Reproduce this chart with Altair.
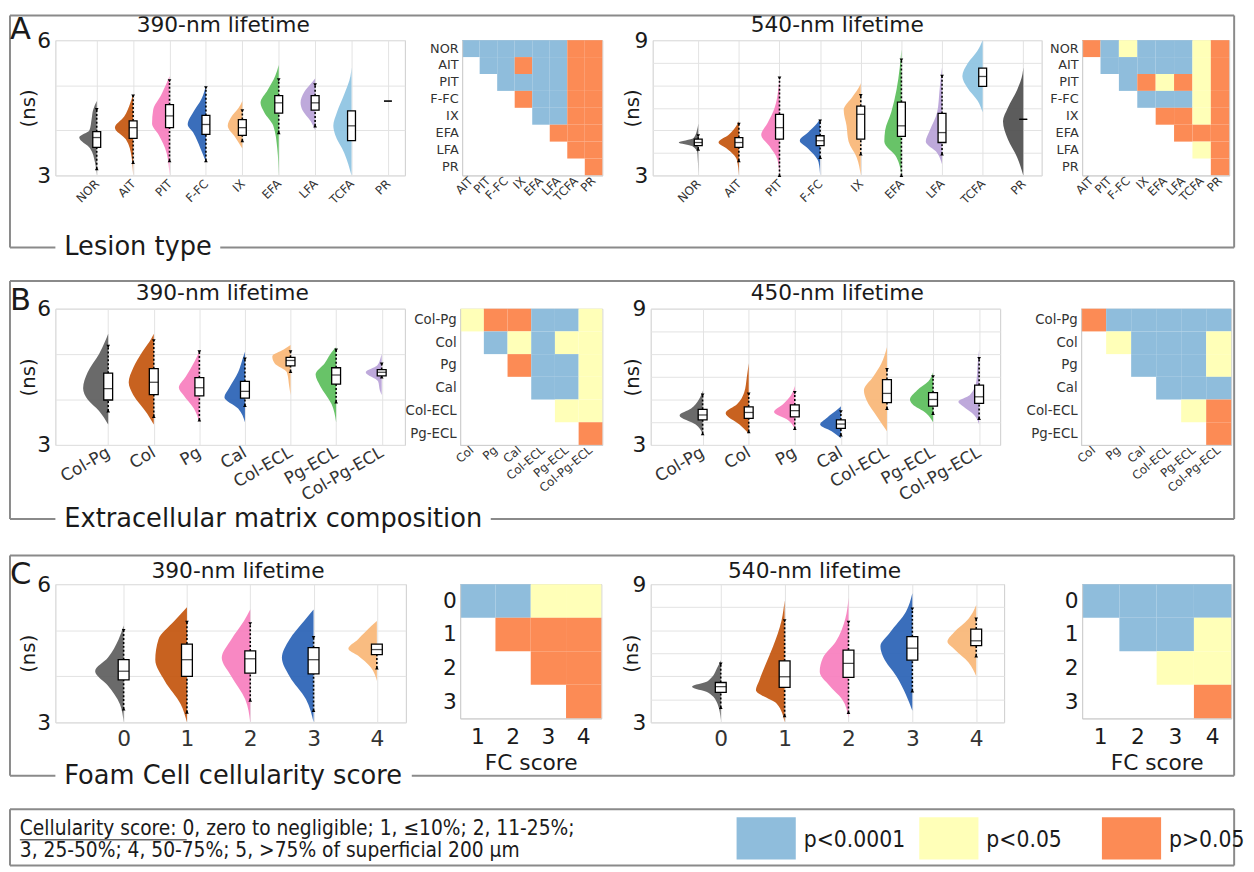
import altair as alt
import pandas as pd

FONT = "DejaVu Sans"
NARROW = "DejaVu Sans Condensed, Liberation Sans Narrow, DejaVu Sans"
FRAME = "#8a8a8a"
INK = "#1a1a1a"

GRAY, BROWN, PINK, BLUE = "#5f5f5f", "#c4560f", "#f77fbe", "#2b63b6"
LORANGE, GREEN, LAV, LBLUE, DGRAY = "#f9b777", "#5dbe5d", "#b9a3d8", "#8ec4e2", "#505050"

SIG_LEVELS = ["p<0.0001", "p<0.05", "p>0.05"]
SIG_COLORS = ["#8fbddc", "#ffffb8", "#fc8b55"]
SIG_CODE = {"B": "p<0.0001", "Y": "p<0.05", "O": "p>0.05"}

# ---------------- A: lesion type ----------------
A_cats = ["NOR", "AIT", "PIT", "F-FC", "IX", "EFA", "LFA", "TCFA", "PR"]
A_colors = [GRAY, BROWN, PINK, BLUE, LORANGE, GREEN, LAV, LBLUE, DGRAY]

A390_q1 = [3.62, 3.82, 4.06, 3.91, 3.89, 4.38, 4.45, 3.77, 4.65]
A390_med = [3.84, 4.06, 4.32, 4.13, 4.06, 4.61, 4.61, 4.10, 4.65]
A390_q3 = [3.97, 4.21, 4.57, 4.33, 4.24, 4.77, 4.77, 4.43, 4.65]
A390_lo = [3.15, 3.29, 3.33, 3.33, 3.77, 3.95, 4.10, 3.77, 4.65]
A390_hi = [4.46, 4.76, 5.10, 4.94, 4.43, 5.12, 5.01, 4.43, 4.65]
A390_shape = [
    [(3.0, 0), (3.3, 0.05), (3.6, 0.18), (3.84, 0.48), (4.0, 0.2), (4.25, 0.14), (4.45, 0.1), (4.65, 0)],
    [(3.0, 0), (3.4, 0.04), (3.8, 0.2), (4.06, 0.5), (4.3, 0.25), (4.6, 0.08), (4.8, 0)],
    [(3.0, 0), (3.5, 0.08), (3.9, 0.3), (4.15, 0.48), (4.45, 0.45), (4.8, 0.22), (5.2, 0)],
    [(3.3, 0), (3.6, 0.15), (3.95, 0.35), (4.13, 0.5), (4.4, 0.35), (4.7, 0.12), (5.0, 0)],
    [(3.6, 0), (3.85, 0.2), (4.1, 0.4), (4.3, 0.3), (4.5, 0.1), (4.65, 0)],
    [(3.0, 0), (3.6, 0.04), (4.1, 0.15), (4.4, 0.4), (4.61, 0.5), (4.9, 0.3), (5.2, 0.1), (5.45, 0)],
    [(4.0, 0), (4.2, 0.12), (4.45, 0.35), (4.61, 0.4), (4.85, 0.3), (5.05, 0.1), (5.15, 0)],
    [(3.0, 0), (3.5, 0.2), (3.9, 0.45), (4.1, 0.5), (4.4, 0.4), (4.8, 0.2), (5.2, 0.03), (5.4, 0)],
    [],
]

A540_q1 = [4.32, 4.24, 4.61, 4.32, 4.61, 4.73, 4.46, 6.95, 5.49]
A540_med = [4.46, 4.46, 5.12, 4.54, 5.71, 5.20, 4.90, 7.39, 5.49]
A540_q3 = [4.61, 4.68, 5.71, 4.76, 6.07, 6.25, 5.75, 7.76, 5.49]
A540_lo = [4.17, 3.66, 3.00, 3.80, 3.95, 3.00, 3.95, 6.95, 5.49]
A540_hi = [4.76, 5.27, 7.32, 5.41, 6.54, 8.12, 7.39, 7.76, 5.49]
A540_shape = [
    [(3.1, 0), (4.0, 0.02), (4.3, 0.15), (4.46, 0.48), (4.65, 0.12), (5.0, 0.03), (5.3, 0)],
    [(3.0, 0), (3.7, 0.05), (4.2, 0.3), (4.46, 0.5), (4.8, 0.25), (5.2, 0.06), (5.4, 0)],
    [(3.0, 0), (3.7, 0.05), (4.3, 0.25), (4.8, 0.45), (5.3, 0.3), (6.0, 0.12), (6.8, 0.03), (7.4, 0)],
    [(3.0, 0), (3.6, 0.04), (4.2, 0.3), (4.54, 0.5), (4.9, 0.3), (5.3, 0.08), (5.5, 0)],
    [(3.0, 0), (3.8, 0.1), (4.5, 0.3), (5.2, 0.35), (5.9, 0.42), (6.5, 0.2), (7.0, 0.02), (7.1, 0)],
    [(3.0, 0), (3.8, 0.12), (4.5, 0.42), (5.0, 0.4), (5.8, 0.25), (6.8, 0.12), (7.8, 0.04), (8.6, 0)],
    [(3.5, 0), (4.0, 0.12), (4.5, 0.4), (5.0, 0.3), (5.8, 0.12), (6.8, 0.06), (7.5, 0.02), (7.8, 0)],
    [(5.8, 0), (6.3, 0.12), (6.9, 0.38), (7.4, 0.5), (8.0, 0.36), (8.5, 0.14), (9.0, 0)],
    [(3.0, 0), (3.8, 0.15), (4.6, 0.38), (5.4, 0.5), (6.0, 0.38), (6.8, 0.15), (7.5, 0.02), (7.8, 0)],
]

A_rows = ["NOR", "AIT", "PIT", "F-FC", "IX", "EFA", "LFA", "PR"]
A_cols = ["AIT", "PIT", "F-FC", "IX", "EFA", "LFA", "TCFA", "PR"]
A390_sig = ["BBBBBBOO", ".BBOBBOO", "..BBBBOO", "...OBBOO",
            "....BBOO", ".....OOO", "......OO", ".......O"]
A540_sig = ["OBYBBBYO", ".BBBBBYO", "..BOYOYO", "...BBBYO",
            "....OOYO", ".....OOO", "......YO", ".......O"]

# ---------------- B: extracellular matrix ----------------
B_cats = ["Col-Pg", "Col", "Pg", "Cal", "Col-ECL", "Pg-ECL", "Col-Pg-ECL"]
B_colors = [GRAY, BROWN, PINK, BLUE, LORANGE, GREEN, LAV]

B390_q1 = [3.99, 4.11, 4.08, 4.03, 4.74, 4.34, 4.52]
B390_med = [4.24, 4.38, 4.26, 4.18, 4.86, 4.54, 4.60]
B390_q3 = [4.58, 4.68, 4.48, 4.40, 4.93, 4.70, 4.66]
B390_lo = [3.75, 3.63, 3.55, 3.87, 4.62, 3.95, 4.50]
B390_hi = [5.17, 5.29, 5.05, 4.89, 5.05, 5.09, 4.78]
B390_shape = [
    [(3.45, 0), (3.75, 0.2), (4.0, 0.45), (4.25, 0.55), (4.6, 0.45), (5.0, 0.2), (5.3, 0.06), (5.45, 0)],
    [(3.45, 0), (3.7, 0.15), (4.1, 0.45), (4.38, 0.55), (4.7, 0.45), (5.05, 0.25), (5.35, 0.05), (5.45, 0)],
    [(3.5, 0), (3.8, 0.12), (4.1, 0.35), (4.26, 0.45), (4.5, 0.3), (4.85, 0.1), (5.05, 0)],
    [(3.5, 0), (3.8, 0.15), (4.05, 0.45), (4.25, 0.35), (4.6, 0.15), (4.9, 0.05), (5.05, 0)],
    [(4.1, 0), (4.3, 0.03), (4.6, 0.08), (4.8, 0.35), (4.95, 0.4), (5.1, 0.15), (5.2, 0)],
    [(3.5, 0), (3.9, 0.1), (4.3, 0.35), (4.55, 0.45), (4.8, 0.25), (5.1, 0.05), (5.15, 0)],
    [(4.1, 0), (4.2, 0.04), (4.4, 0.08), (4.6, 0.35), (4.75, 0.1), (4.9, 0.03), (5.0, 0)],
]

B450_q1 = [4.10, 4.17, 4.24, 3.73, 4.86, 4.71, 4.83]
B450_med = [4.32, 4.43, 4.51, 3.92, 5.27, 5.00, 5.12]
B450_q3 = [4.57, 4.68, 4.76, 4.10, 5.88, 5.30, 5.63]
B450_lo = [3.50, 3.59, 3.73, 3.44, 4.61, 4.39, 4.17]
B450_hi = [5.20, 5.24, 5.30, 4.46, 6.32, 6.00, 6.80]
B450_shape = [
    [(3.5, 0), (3.9, 0.15), (4.3, 0.5), (4.6, 0.25), (5.0, 0.08), (5.4, 0)],
    [(3.5, 0), (3.9, 0.2), (4.4, 0.5), (4.8, 0.25), (5.3, 0.1), (6.0, 0.04), (6.6, 0)],
    [(3.7, 0), (4.1, 0.15), (4.45, 0.45), (4.8, 0.25), (5.2, 0.08), (5.6, 0)],
    [(3.3, 0), (3.6, 0.2), (3.9, 0.45), (4.2, 0.3), (4.6, 0.05), (4.7, 0)],
    [(3.6, 0), (4.2, 0.2), (5.0, 0.45), (5.4, 0.5), (6.0, 0.3), (6.6, 0.12), (7.3, 0)],
    [(4.0, 0), (4.4, 0.15), (4.8, 0.45), (5.0, 0.5), (5.4, 0.35), (5.8, 0.1), (6.2, 0)],
    [(3.9, 0), (4.3, 0.1), (4.7, 0.35), (4.9, 0.45), (5.2, 0.2), (5.8, 0.06), (6.6, 0.03), (7.2, 0)],
]

B_rows = ["Col-Pg", "Col", "Pg", "Cal", "Col-ECL", "Pg-ECL"]
B_cols = ["Col", "Pg", "Cal", "Col-ECL", "Pg-ECL", "Col-Pg-ECL"]
B390_sig = ["YOOBBY", ".BYBYY", "..OBBY", "...BBY", "....YY", ".....O"]
B450_sig = ["OBBBBB", ".YBBBY", "..BBBY", "...BBB", "....YO", ".....O"]

# ---------------- C: foam cell score ----------------
C_cats = ["0", "1", "2", "3", "4"]
C_colors = [GRAY, BROWN, PINK, BLUE, LORANGE]

C390_q1 = [3.92, 4.00, 4.07, 4.05, 4.47]
C390_med = [4.11, 4.36, 4.38, 4.36, 4.58]
C390_q3 = [4.36, 4.70, 4.55, 4.62, 4.70]
C390_lo = [3.29, 3.22, 3.48, 3.26, 4.18]
C390_hi = [4.99, 5.17, 5.14, 4.84, 4.70]
C390_shape = [
    [(3.0, 0), (3.4, 0.06), (3.8, 0.25), (4.11, 0.45), (4.4, 0.25), (4.8, 0.08), (5.1, 0)],
    [(3.0, 0), (3.4, 0.1), (3.9, 0.35), (4.36, 0.5), (4.8, 0.45), (5.2, 0.2), (5.5, 0)],
    [(3.0, 0), (3.5, 0.08), (4.0, 0.3), (4.4, 0.45), (4.8, 0.3), (5.2, 0.1), (5.45, 0)],
    [(3.0, 0), (3.5, 0.12), (4.0, 0.38), (4.4, 0.5), (4.8, 0.38), (5.2, 0.15), (5.45, 0)],
    [(3.9, 0), (4.2, 0.1), (4.45, 0.3), (4.6, 0.45), (4.8, 0.3), (5.1, 0.08), (5.2, 0)],
]

C540_q1 = [4.30, 4.52, 4.95, 5.70, 6.33]
C540_med = [4.55, 4.98, 5.56, 6.22, 6.54]
C540_q3 = [4.73, 5.67, 6.14, 6.72, 7.05]
C540_lo = [3.65, 3.29, 3.43, 4.37, 5.89]
C540_hi = [5.53, 7.41, 7.34, 7.92, 7.48]
C540_shape = [
    [(3.1, 0), (3.8, 0.05), (4.3, 0.2), (4.55, 0.45), (4.8, 0.2), (5.4, 0.05), (5.7, 0)],
    [(3.0, 0), (3.8, 0.12), (4.4, 0.45), (4.8, 0.4), (5.5, 0.3), (6.3, 0.18), (7.4, 0.05), (8.3, 0)],
    [(3.2, 0), (4.0, 0.1), (4.6, 0.3), (5.2, 0.45), (5.8, 0.4), (6.5, 0.2), (7.5, 0.05), (8.4, 0)],
    [(3.5, 0), (4.2, 0.1), (5.0, 0.25), (5.8, 0.45), (6.3, 0.5), (6.9, 0.35), (7.8, 0.1), (8.6, 0)],
    [(5.0, 0), (5.6, 0.12), (6.2, 0.35), (6.5, 0.45), (6.9, 0.35), (7.5, 0.12), (8.1, 0)],
]

C_rows = ["0", "1", "2", "3"]
C_cols = ["1", "2", "3", "4"]
C390_sig = ["BBYY", ".OOO", "..OO", "...O"]
C540_sig = ["BBBB", ".BBY", "..YY", "...O"]

LEGEND_LINE1 = "Cellularity score: 0, zero to negligible; 1, \u226410%; 2, 11-25%;"
LEGEND_LINE2 = "3, 25-50%; 4, 50-75%; 5, >75%  of superficial 200 \u03bcm"

ONE = pd.DataFrame({"k": [0]})
NOSTROKE = alt.ViewBackground(stroke="transparent")


# ---------------- helpers ----------------
def hrule(x1, x2, y, color=FRAME, w=2, op=1):
    return alt.Chart(ONE).mark_rule(color=color, strokeWidth=w, strokeOpacity=op).encode(
        x=alt.value(x1), x2=alt.value(x2), y=alt.value(y))


def vrule(x, y1, y2, color=FRAME, w=2):
    return alt.Chart(ONE).mark_rule(color=color, strokeWidth=w).encode(
        x=alt.value(x), y=alt.value(y1), y2=alt.value(y2))


def label(text, x, y, size, align="left", font=FONT, baseline="middle"):
    return alt.Chart(ONE).mark_text(text=text, fontSize=size, font=font, align=align,
                                    baseline=baseline, color=INK).encode(
        x=alt.value(x), y=alt.value(y))


def spacer(w, h):
    return alt.Chart(ONE).mark_point(opacity=0).encode(
        x=alt.value(0), y=alt.value(0)).properties(width=w, height=h, view=NOSTROKE)


def section(top, bottom, right, cap_w, caption, letter, letter_y, bound_y):
    left, cap_x = -46, 9
    return [hrule(left, right, top), vrule(left, top, bottom), vrule(right, top, bottom),
            hrule(left, cap_x - 9, bottom), hrule(cap_x + cap_w + 8, right, bottom),
            label(caption, cap_x, bottom, 26),
            label(letter, -46, letter_y, 31, baseline="top"),
            hrule(0, 10, bound_y, w=1, op=0)]


def violin(cats, colors, shapes, q1, med, q3, lo, hi, *, ydom, xdom, width, height,
           lab_angle, lab_size, box_w, title, title_x, title_y, ytitle_x, extra=()):
    n = len(cats)
    recs = []
    for i, prof in enumerate(shapes):
        for yv, wv in prof:
            recs.append({"cat": cats[i], "yv": yv, "xl": i - wv, "xr": i})
    shape_df = pd.DataFrame(recs)
    box_df = pd.DataFrame({"cat": cats, "idx": list(range(n)), "q1": q1, "med": med,
                           "q3": q3, "lo": lo, "hi": hi})
    names = "[" + ",".join("'%s'" % c for c in cats) + "]"
    common = dict(values=list(range(n)), labelExpr=names + "[datum.value]",
                  labelFontSize=lab_size, labelFont=FONT, labelColor="#333333",
                  grid=True, gridColor="#e3e3e3", ticks=False, domain=False, title=None,
                  labelOverlap=False, labelFlush=False)
    if lab_angle:
        xa = alt.Axis(labelAngle=lab_angle, labelAlign="right", labelBaseline="middle",
                      labelPadding=6, **common)
    else:
        xa = alt.Axis(labelAngle=0, labelAlign="center", labelBaseline="top",
                      labelPadding=6, **common)
    ymin, ymax = ydom
    ya = alt.Axis(values=list(range(ymin, ymax + 1)),
                  labelExpr="datum.value == %d || datum.value == %d ? datum.label : ''" % (ymin, ymax),
                  labelFontSize=22, labelFont=FONT, labelColor=INK, labelPadding=5,
                  labelFlush=False, grid=True, gridColor="#e3e3e3", ticks=False, domain=False,
                  title="(ns)", titleFontSize=20, titleFont=FONT, titleFontWeight="normal",
                  titleColor=INK, titleX=ytitle_x, titleY=height / 2, titleAlign="center",
                  titleBaseline="middle")
    xs = alt.Scale(domain=xdom, nice=False, zero=False)
    ys = alt.Scale(domain=[ymin, ymax], nice=False, zero=False)

    def X(f):
        return alt.X(f, type="quantitative", scale=xs, axis=xa)

    def Y(f):
        return alt.Y(f, type="quantitative", scale=ys, axis=ya)

    areas = []
    for i, c in enumerate(cats):
        if len(shapes[i]) == 0:
            continue
        sub = shape_df[shape_df["cat"] == c]
        areas.append(alt.Chart(sub).mark_area(orient="horizontal", interpolate="monotone",
                                              color=colors[i], opacity=0.93).encode(
            y=Y("yv"), x=X("xl"), x2=alt.X2("xr")))
    base = alt.Chart(box_df)
    f_up = "datum.hi > datum.q3 + 0.001"
    f_dn = "datum.lo < datum.q1 - 0.001"
    up = base.transform_filter(f_up).mark_rule(color="black", strokeDash=[2, 2], strokeWidth=1.6).encode(
        x=X("idx"), y=Y("q3"), y2=alt.Y2("hi"))
    dn = base.transform_filter(f_dn).mark_rule(color="black", strokeDash=[2, 2], strokeWidth=1.6).encode(
        x=X("idx"), y=Y("lo"), y2=alt.Y2("q1"))
    cap_hi = base.transform_filter(f_up).mark_point(shape="triangle-down", filled=True, size=14,
                                                     color="black", opacity=1).encode(x=X("idx"), y=Y("hi"))
    cap_lo = base.transform_filter(f_dn).mark_point(shape="triangle-up", filled=True, size=14,
                                                     color="black", opacity=1).encode(x=X("idx"), y=Y("lo"))
    box = base.mark_bar(size=box_w, fill="white", stroke="black", strokeWidth=1.3).encode(
        x=X("idx"), y=Y("q1"), y2=alt.Y2("q3"))
    medl = base.mark_tick(orient="horizontal", size=box_w, thickness=1.3, color="black").encode(
        x=X("idx"), y=Y("med"))
    ttl = label(title, title_x, title_y, 22, align="center")
    return alt.layer(*areas, up, dn, cap_hi, cap_lo, box, medl, ttl, *extra).properties(
        width=width, height=height)


def heatmap(rows_, cols_, codes, width, height, *, xangle, xsize, ysize, xtitle=None):
    recs = []
    for r, code in zip(rows_, codes):
        for j, ch in enumerate(code):
            if ch in SIG_CODE:
                recs.append({"row": r, "col": cols_[j], "sig": SIG_CODE[ch]})
    df = pd.DataFrame(recs)
    if xangle:
        xa = alt.Axis(labelAngle=xangle, labelAlign="right", labelBaseline="middle",
                      labelFontSize=xsize, labelFont=FONT, labelColor="#333333", ticks=False,
                      domainColor="#cfcfcf", labelPadding=3, title=None)
    else:
        xa = alt.Axis(labelAngle=0, labelAlign="center", labelBaseline="top",
                      labelFontSize=xsize, labelFont=FONT, labelColor=INK, ticks=False,
                      domainColor="#cfcfcf", labelPadding=8, title=xtitle, titleFontSize=22,
                      titleFont=FONT, titleFontWeight="normal", titleColor=INK, titlePadding=6)
    ya = alt.Axis(labelFontSize=ysize, labelFont=FONT, labelColor="#333333" if ysize < 20 else INK,
                  ticks=False, domainColor="#cfcfcf", labelPadding=4, title=None)
    return alt.Chart(df).mark_rect().encode(
        x=alt.X("col:N", scale=alt.Scale(domain=cols_, paddingInner=0, paddingOuter=0), axis=xa),
        y=alt.Y("row:N", scale=alt.Scale(domain=rows_, paddingInner=0, paddingOuter=0), axis=ya),
        color=alt.Color("sig:N", scale=alt.Scale(domain=SIG_LEVELS, range=SIG_COLORS), legend=None),
    ).properties(width=width, height=height)


def hrow(*charts):
    return alt.hconcat(*charts, spacing=0, bounds="flush").resolve_scale(
        color="independent", x="independent", y="independent")


# ---------------- row A ----------------
vA390 = violin(A_cats, A_colors, A390_shape, A390_q1, A390_med, A390_q3, A390_lo, A390_hi,
               ydom=(3, 6), xdom=[-1, 8.33], width=354, height=137, lab_angle=315, lab_size=12,
               box_w=8, title="390-nm lifetime", title_x=170, title_y=-15, ytitle_x=-27,
               extra=section(-25, 210, 1194, 150, "Lesion type", "A", -25, 241))
hA390 = heatmap(A_rows, A_cols, A390_sig, 142, 137, xangle=315, xsize=12, ysize=13)
vA540 = violin(A_cats, A_colors, A540_shape, A540_q1, A540_med, A540_q3, A540_lo, A540_hi,
               ydom=(3, 9), xdom=[-1, 8.33], width=394, height=137, lab_angle=315, lab_size=12,
               box_w=8, title="540-nm lifetime", title_x=187, title_y=-15, ytitle_x=-20)
hA540 = heatmap(A_rows, A_cols, A540_sig, 149, 137, xangle=315, xsize=12, ysize=13)
rowA = hrow(vA390, spacer(58, 137), hA390, spacer(51, 137), vA540, spacer(41, 137), hA540)

# ---------------- row B ----------------
vB390 = violin(B_cats, B_colors, B390_shape, B390_q1, B390_med, B390_q3, B390_lo, B390_hi,
               ydom=(3, 6), xdom=[-1.05, 6.4], width=354, height=138, lab_angle=330, lab_size=17,
               box_w=9, title="390-nm lifetime", title_x=169, title_y=-16, ytitle_x=-27,
               extra=section(-28, 213, 1194, 424, "Extracellular matrix composition", "B", -23, 247))
hB390 = heatmap(B_rows, B_cols, B390_sig, 144, 138, xangle=320, xsize=12, ysize=13.5)
vB450 = violin(B_cats, B_colors, B450_shape, B450_q1, B450_med, B450_q3, B450_lo, B450_hi,
               ydom=(3, 9), xdom=[-1.02, 6.35], width=354, height=138, lab_angle=330, lab_size=17,
               box_w=9, title="450-nm lifetime", title_x=189, title_y=-16, ytitle_x=-18)
hB450 = heatmap(B_rows, B_cols, B450_sig, 152, 138, xangle=320, xsize=12, ysize=13.5)
rowB = hrow(vB390, spacer(56, 138), hB390, spacer(49, 138), vB450, spacer(82, 138), hB450)

# ---------------- row C ----------------
vC390 = violin(C_cats, C_colors, C390_shape, C390_q1, C390_med, C390_q3, C390_lo, C390_hi,
               ydom=(3, 6), xdom=[-1, 4.38], width=355, height=140, lab_angle=0, lab_size=22,
               box_w=11, title="390-nm lifetime", title_x=185, title_y=-13, ytitle_x=-27,
               extra=section(-29, 194, 1194, 344, "Foam Cell cellularity score", "C", -24, 225))
hC390 = heatmap(C_rows, C_cols, C390_sig, 143, 136, xangle=0, xsize=22, ysize=22, xtitle="FC score")
vC540 = violin(C_cats, C_colors, C540_shape, C540_q1, C540_med, C540_q3, C540_lo, C540_hi,
               ydom=(3, 9), xdom=[-1.02, 4.36], width=358, height=140, lab_angle=0, lab_size=22,
               box_w=11, title="540-nm lifetime", title_x=166, title_y=-13, ytitle_x=-19)
hC540 = heatmap(C_rows, C_cols, C540_sig, 151, 136, xangle=0, xsize=22, ysize=22, xtitle="FC score")
rowC = hrow(vC390, spacer(55, 140), hC390, spacer(50, 140), vC540, spacer(79, 140), hC540)

# ---------------- legend row ----------------
legend_text = alt.layer(
    hrule(-46, 1194, -8), hrule(-46, 1194, 49), vrule(-46, -8, 49), vrule(1194, -8, 49),
    label(LEGEND_LINE1, -36, 12, 21, font=NARROW),
    label(LEGEND_LINE2, -36, 34, 21, font=NARROW),
    hrule(-36, -36 + 169, 23, color=INK, w=1),
).properties(width=690, height=43, view=NOSTROKE)

sw_df = pd.DataFrame({"sig": SIG_LEVELS})
sw_scale = alt.Scale(domain=SIG_LEVELS, paddingInner=0.676, paddingOuter=0, align=0)
swatches = alt.Chart(sw_df).mark_rect().encode(
    x=alt.X("sig:N", scale=sw_scale, axis=None),
    y=alt.value(0), y2=alt.value(43),
    color=alt.Color("sig:N", scale=alt.Scale(domain=SIG_LEVELS, range=SIG_COLORS), legend=None))
sw_text = alt.Chart(sw_df).mark_text(align="left", baseline="middle", fontSize=23, font=NARROW,
                                     dx=38, color=INK).encode(
    x=alt.X("sig:N", scale=sw_scale, axis=None), y=alt.value(23), text="sig:N")
swatch_chart = alt.layer(swatches, sw_text).properties(width=430, height=43, view=NOSTROKE)
legend_row = hrow(legend_text, swatch_chart)

chart = alt.vconcat(rowA, rowB, rowC, legend_row, spacing=0).resolve_scale(
    color="independent", x="independent", y="independent")
chart = chart.properties(padding=0).configure(background="white", font=FONT).configure_view(
    stroke="#cccccc", strokeWidth=1)

chart.save("out.html", embed_options={"renderer": "svg", "actions": False})
